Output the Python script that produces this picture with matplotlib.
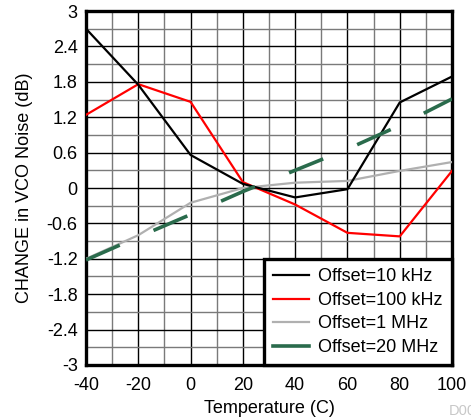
#!/usr/bin/env python3

"""
change in VCO noise versus temperature, four offsets.
output: out.png
"""

import matplotlib.pyplot as plt
from matplotlib.ticker import MultipleLocator

plt.rcParams['font.family'] = ['Liberation Sans', 'DejaVu Sans']
plt.rcParams['axes.unicode_minus'] = False

TEMPS = [-40, -20, 0, 20, 40, 60, 80, 100]

OFFSET_10K = [2.70, 1.75, 0.56, 0.07, -0.16, -0.02, 1.45, 1.89]
OFFSET_100K = [1.24, 1.76, 1.46, 0.10, -0.28, -0.76, -0.82, 0.29]
OFFSET_1M = [-1.20, -0.80, -0.25, 0.00, 0.09, 0.12, 0.29, 0.44]
OFFSET_20M = [-1.22, -0.83, -0.45, -0.06, 0.30, 0.66, 1.06, 1.51]

LABELS = ["Offset=10 kHz", "Offset=100 kHz", "Offset=1 MHz", "Offset=20 MHz"]

fig = plt.figure(figsize=(4.71, 4.19), dpi=100)
ax = fig.add_axes([0.1826, 0.1289, 0.7771, 0.8448])

ax.plot(TEMPS, OFFSET_10K, color='black', lw=1.6, label=LABELS[0], zorder=4)
ax.plot(TEMPS, OFFSET_100K, color='#ff0000', lw=1.6, label=LABELS[1], zorder=3)
ax.plot(TEMPS, OFFSET_1M, color='#b0b0b0', lw=1.6, label=LABELS[2], zorder=3)
ax.plot(TEMPS, OFFSET_20M, color='#2a6b4c', lw=2.6, label=LABELS[3],
        dashes=(10.2, 10.2), zorder=5)

ax.set_xlim(-40, 100)
ax.set_ylim(-3, 3)
ax.xaxis.set_major_locator(MultipleLocator(20))
ax.xaxis.set_minor_locator(MultipleLocator(10))
ax.yaxis.set_minor_locator(MultipleLocator(0.3))
ax.set_yticks([-3, -2.4, -1.8, -1.2, -0.6, 0, 0.6, 1.2, 1.8, 2.4, 3])
ax.set_yticklabels(["-3", "-2.4", "-1.8", "-1.2", "-0.6", "0", "0.6",
                    "1.2", "1.8", "2.4", "3"])

ax.grid(which='major', color='black', lw=1.0, zorder=1)
ax.grid(which='minor', color='#7a7a7a', lw=1.0, zorder=1)
ax.set_axisbelow(True)
ax.tick_params(which='both', length=0, labelsize=13)
ax.tick_params(axis='x', pad=9)
ax.tick_params(axis='y', pad=6)
for sp in ax.spines.values():
    sp.set_linewidth(2.4)

ax.set_xlabel("Temperature (C)", fontsize=13, labelpad=4)
ax.set_ylabel("CHANGE in VCO Noise (dB)", fontsize=13, labelpad=10)

leg = ax.legend(loc='lower right', bbox_to_anchor=(1.0, 0.0), borderaxespad=0,
                fontsize=13, frameon=True, fancybox=False, framealpha=1,
                handlelength=1.95, handletextpad=0.55, labelspacing=0.36,
                borderpad=0.5)
leg.get_frame().set_edgecolor('black')
leg.get_frame().set_linewidth(2.4)
leg.set_zorder(10)
for h in leg.get_lines():
    h.set_linestyle('-')

fig.text(0.953, 0.003, "D001", color='#c8c8c8', fontsize=10.5, ha='left', va='bottom')

plt.savefig("out.png", dpi=100)
